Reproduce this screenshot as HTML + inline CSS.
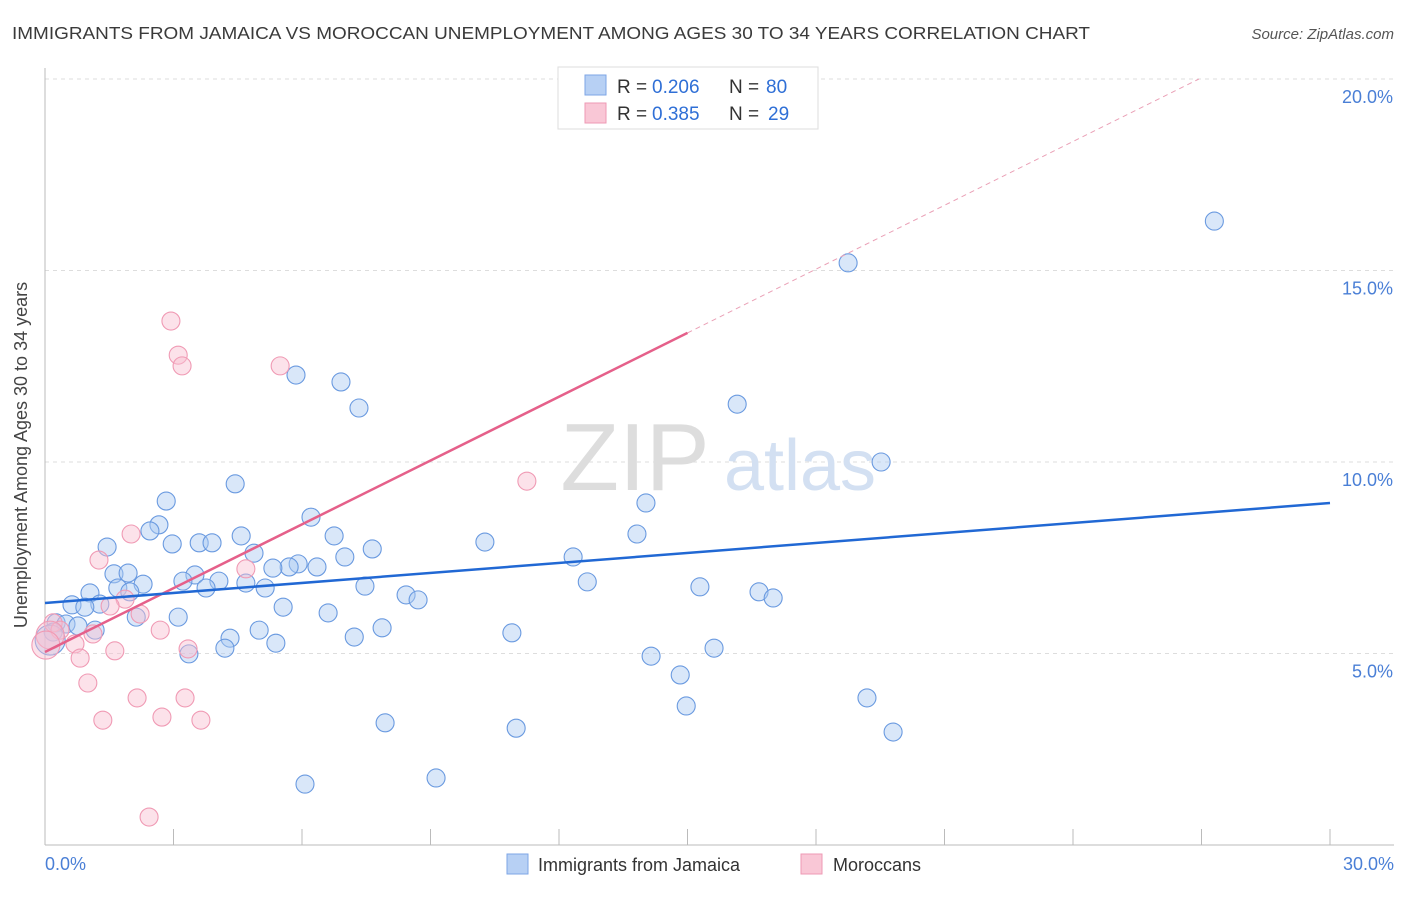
<!DOCTYPE html>
<html><head><meta charset="utf-8"><style>
body{margin:0;background:#fff;font-family:"Liberation Sans",sans-serif;}
svg text{font-family:"Liberation Sans",sans-serif;}
</style></head><body>
<svg width="1406" height="892" xmlns="http://www.w3.org/2000/svg">
<text x="12" y="39" font-size="17.5" fill="#3a3a3a" textLength="1078" lengthAdjust="spacingAndGlyphs">IMMIGRANTS FROM JAMAICA VS MOROCCAN UNEMPLOYMENT AMONG AGES 30 TO 34 YEARS CORRELATION CHART</text>
<text x="1394" y="39" font-size="15" fill="#555" font-style="italic" text-anchor="end">Source: ZipAtlas.com</text>
<g id="grid"></g>
<g>
<text x="635" y="490" font-size="96" fill="#ddd" font-family="Liberation Serif" text-anchor="middle">ZIP</text>
<text x="800" y="490" font-size="72" fill="#d3e0f2" text-anchor="middle">atlas</text>
</g>
<g id="pts"></g>
<g id="lines"></g>
<text x="27" y="455" font-size="18" fill="#444" transform="rotate(-90 27 455)" text-anchor="middle">Unemployment Among Ages 30 to 34 years</text>
<text x="45" y="870" font-size="18" fill="#4a7fd6">0.0%</text>
<text x="1394" y="870" font-size="18" fill="#4a7fd6" text-anchor="end">30.0%</text>
<g>
<rect x="558" y="67" width="260" height="62" fill="#fff" stroke="#ddd"/>
<rect x="585" y="75" width="21" height="20" fill="#b7d0f4" stroke="#7ea6e6"/>
<rect x="585" y="103" width="21" height="20" fill="#f9c7d6" stroke="#ee9ab4"/>
<text x="617" y="93" font-size="19" fill="#333">R =</text>
<text x="652" y="93" font-size="19" fill="#2f6fd6">0.206</text>
<text x="729" y="93" font-size="19" fill="#333">N =</text>
<text x="766" y="93" font-size="19" fill="#2f6fd6">80</text>
<text x="617" y="120" font-size="19" fill="#333">R =</text>
<text x="652" y="120" font-size="19" fill="#2f6fd6">0.385</text>
<text x="729" y="120" font-size="19" fill="#333">N =</text>
<text x="768" y="120" font-size="19" fill="#2f6fd6">29</text>
</g>
<g>
<rect x="507" y="854" width="21" height="20" fill="#b7d0f4" stroke="#7ea6e6"/>
<text x="538" y="871" font-size="18" fill="#333">Immigrants from Jamaica</text>
<rect x="801" y="854" width="21" height="20" fill="#f9c7d6" stroke="#ee9ab4"/>
<text x="833" y="871" font-size="18" fill="#333">Moroccans</text>
</g>
</svg>
<script>
const blueX=[27.30,18.75,5.86,6.91,7.33,16.16,19.52,4.44,2.83,14.03,6.21,2.66,2.45,4.58,6.75,13.82,2.97,3.60,3.90,1.45,7.64,10.27,4.88,12.33,7.00,5.91,5.70,5.32,6.35,1.61,1.94,3.50,3.22,4.06,4.69,2.29,1.70,7.47,12.66,3.76,5.14,15.29,1.05,1.98,8.43,8.71,16.67,17.00,1.28,0.63,0.93,5.56,6.61,2.13,3.11,0.26,0.49,0.77,7.87,1.17,5.00,10.90,0.19,7.22,4.32,5.39,4.20,15.62,0.12,3.36,14.15,14.83,19.19,14.97,7.94,11.00,19.80,9.13,6.07];
const blueY=[16.29,15.20,12.27,12.09,11.41,11.51,10.00,9.43,8.98,8.93,8.56,8.36,8.20,8.07,8.07,8.12,7.86,7.89,7.89,7.78,7.73,7.91,7.62,7.52,7.52,7.34,7.26,7.23,7.26,7.08,7.10,7.05,6.89,6.89,6.84,6.81,6.71,6.76,6.87,6.71,6.71,6.74,6.58,6.61,6.53,6.40,6.61,6.45,6.29,6.27,6.21,6.21,6.06,5.95,5.95,5.80,5.77,5.72,5.67,5.61,5.61,5.54,5.56,5.43,5.40,5.27,5.14,5.14,5.35,4.99,4.93,4.44,3.84,3.63,3.19,3.05,2.95,1.75,1.59];
const pinkX=[2.94,3.11,3.20,5.49,11.25,2.01,1.26,4.69,1.87,1.52,2.22,0.19,0.35,1.12,2.69,0.70,3.34,1.63,0.82,1.00,2.15,3.27,1.35,2.73,3.64,2.43,0.12,0.02];
const pinkY=[13.68,12.79,12.51,12.51,9.50,8.12,7.44,7.21,6.42,6.24,6.03,5.80,5.61,5.51,5.61,5.25,5.12,5.07,4.88,4.23,3.84,3.84,3.26,3.34,3.26,0.73,5.48,5.22];
const blueFit=[6.32,8.93];
const pinkFit=[5.04,13.37];
const pinkFitEndX=15.0;
const yTicks=[5,10,15,20];
const yTickLabels=["5.0%","10.0%","15.0%","20.0%"];
const xTicks=[0,3,6,9,12,15,18,21,24,27,30];
const NS="http://www.w3.org/2000/svg";
const sx=v=>45+v/30*1285;
const sy=v=>845-v*38.3;
function mk(tag,attrs,parent){const e=document.createElementNS(NS,tag);for(const k in attrs)e.setAttribute(k,attrs[k]);parent.appendChild(e);return e;}
const grid=document.getElementById('grid');
yTicks.forEach((t,i)=>{
 const l=mk('line',{x1:45,x2:1394,y1:sy(t),y2:sy(t),stroke:'#ddd','stroke-dasharray':'4 4'},grid);
 
 
 const tx=mk('text',{x:1393,y:sy(t)+24,'font-size':18,fill:'#4a7fd6','text-anchor':'end'},grid);
 tx.textContent=yTickLabels[i];
 
 
});
const ax=mk('line',{x1:45,x2:45,y1:68,y2:845,stroke:'#bbb'},grid);


const bx=mk('line',{x1:45,x2:1394,y1:845,y2:845,stroke:'#bbb'},grid);


xTicks.forEach(t=>{
 const l=mk('line',{x1:sx(t),x2:sx(t),y1:829,y2:845,stroke:'#bbb'},grid);
 
 
});
const pts=document.getElementById('pts');
blueX.forEach((x,i)=>{
 const c=mk('circle',{cx:sx(x),cy:sy(blueY[i]),r:(x<0.15?15:9),fill:'rgba(170,202,242,0.45)',stroke:'#6a9ae0','stroke-width':1.1},pts);
 
 
});
pinkX.forEach((x,i)=>{
 const c=mk('circle',{cx:sx(x),cy:sy(pinkY[i]),r:(x<0.15?14:9),fill:'rgba(248,190,208,0.45)',stroke:'#f09ab4','stroke-width':1.1},pts);
 
 
});
const lines=document.getElementById('lines');
const slope=(pinkFit[1]-pinkFit[0])/pinkFitEndX;
const xAt20=(20-pinkFit[0])/slope;
const d=mk('line',{x1:sx(pinkFitEndX),y1:sy(pinkFit[1]),x2:sx(xAt20),y2:sy(20),stroke:'#eaa0b6','stroke-width':1,'stroke-dasharray':'5 4'},lines);


const p=mk('line',{x1:sx(0),y1:sy(pinkFit[0]),x2:sx(pinkFitEndX),y2:sy(pinkFit[1]),stroke:'#e5608a','stroke-width':2.5},lines);


const b=mk('line',{x1:sx(0),y1:sy(blueFit[0]),x2:sx(30),y2:sy(blueFit[1]),stroke:'#2168d4','stroke-width':2.5},lines);


</script>
</body></html>
